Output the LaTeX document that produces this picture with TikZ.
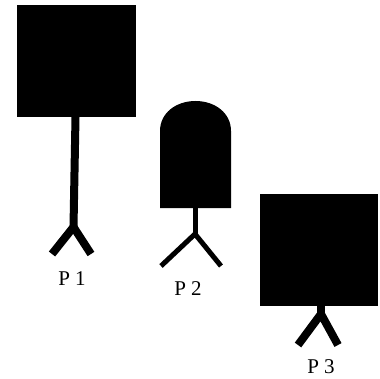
\documentclass[tikz,border=0pt]{standalone}
\usepackage{fontspec}
\setmainfont{Liberation Serif}
\tikzset{
  blob/.style={fill=black,draw=none},
  thick stem/.style={draw=black,line width=8pt},
  thin stem/.style={draw=black,line width=5pt},
  plabel/.style={font=\fontsize{21}{24}\selectfont,inner sep=0pt,anchor=center,text=black}
}
\begin{document}
\begin{tikzpicture}[x=1pt,y=-1pt]
\useasboundingbox (0,0) rectangle (379,379);
% P1
\path[blob] (17,5) rectangle (136,117);
\coordinate (a1) at (75.5,117);
\coordinate (b1) at (73.5,227);
\coordinate (l1) at (52,254);
\coordinate (r1) at (91,254);
\draw[thick stem] (a1) -- (b1);
\draw[thick stem,line join=miter] (l1) -- (b1) -- (r1);
\node[plabel] (p1) at (72,279) {P 1};
% P2
\path[blob] (160,208) -- (160,131) .. controls (160,113) and (176,101) .. (195.5,101)
  .. controls (215,101) and (231,113) .. (231,131) -- (231,208) -- cycle;
\coordinate (a2) at (195,208);
\coordinate (b2) at (195,234);
\coordinate (l2) at (161,266);
\coordinate (r2) at (221,266);
\draw[thin stem] (a2) -- (b2);
\draw[thin stem,line join=miter] (l2) -- (b2) -- (r2);
\node[plabel] (p2) at (188,289) {P 2};
% P3
\path[blob] (260,194) rectangle (378,306);
\coordinate (a3) at (321,306);
\coordinate (b3) at (321,314);
\coordinate (l3) at (298,345);
\coordinate (r3) at (338,345);
\draw[thick stem] (a3) -- (b3);
\draw[thick stem,line join=miter] (l3) -- (b3) -- (r3);
\node[plabel] (p3) at (321,367) {P 3};
\end{tikzpicture}
\end{document}
